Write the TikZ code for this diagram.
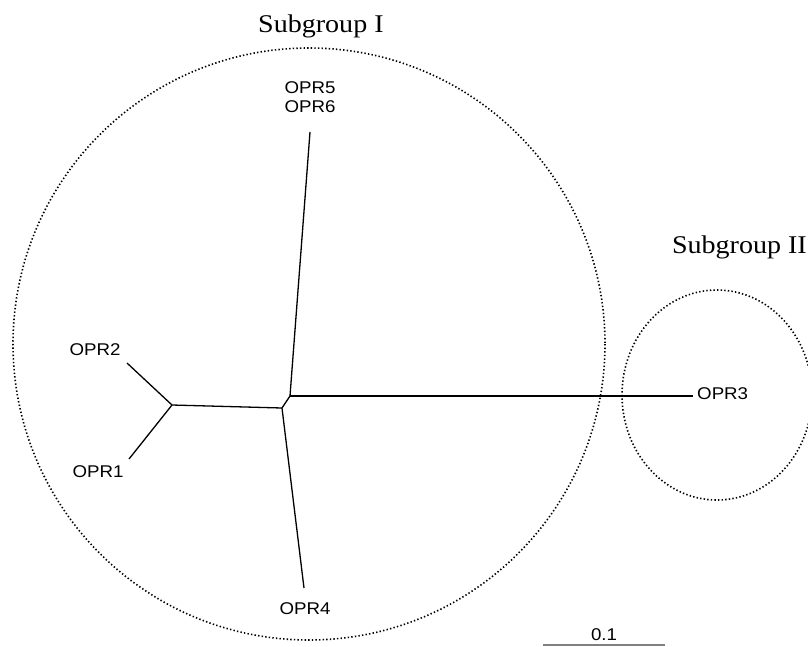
\documentclass[tikz,border=0pt]{standalone}
\usepackage{fontspec}
\setmainfont{Liberation Serif}
\newfontfamily\arialf{Liberation Sans}
\newcommand\widetext[1]{\scalebox{1.1}[1]{#1}}
\begin{document}
\begin{tikzpicture}[x=1pt,y=-1pt,
  branch/.style={line width=1.3pt,black},
  grp/.style={line width=1.6pt,dash pattern=on 1.4pt off 2.2pt},
  leaf/.style={font=\fontsize{17}{17}\selectfont\arialf,inner sep=0pt},
  title/.style={font=\fontsize{25.5}{25.5}\selectfont,inner sep=0pt,anchor=base west}]
\useasboundingbox (0,0) rectangle (808,646);
% group outlines
\draw[grp] (309,344) circle (296);
\draw[grp] (717,395) ellipse (95 and 105);
\node[title] (s1) at (258,32) {\widetext{Subgroup I}};
\node[title,anchor=base east] (s2) at (807,253) {\widetext{Subgroup II}};
% labels
\node[leaf] (o5) at (310,88) {\widetext{OPR5}};
\node[leaf] (o6) at (310,107) {\widetext{OPR6}};
\node[leaf] (o2) at (95,350) {\widetext{OPR2}};
\node[leaf] (o1) at (98,472) {\widetext{OPR1}};
\node[leaf] (o4) at (305,609) {\widetext{OPR4}};
\node[leaf,anchor=west] (o3) at (697,394) {\widetext{OPR3}};
\node[leaf] (sc) at (604,635) {\widetext{0.1}};
% tree coordinates
\coordinate (a) at (172,405);
\coordinate (b) at (282,408);
\coordinate (c) at (290,396);
\coordinate (e2) at (127,363);
\coordinate (e1) at (129,459);
\coordinate (e56) at (310,132);
\coordinate (e4) at (304,588);
\coordinate (e3) at (693,396);
\coordinate (sl) at (543,645);
\coordinate (sr) at (665,645);
\draw[branch] (e2) -- (a);
\draw[branch] (e1) -- (a);
\draw[branch] (a) -- (b);
\draw[branch] (b) -- (c);
\draw[branch] (c) -- (e56);
\draw[branch] (b) -- (e4);
\draw[branch] (c) -- (e3);
\draw[line width=1.2pt,gray] (sl) -- (sr);
\end{tikzpicture}
\end{document}
